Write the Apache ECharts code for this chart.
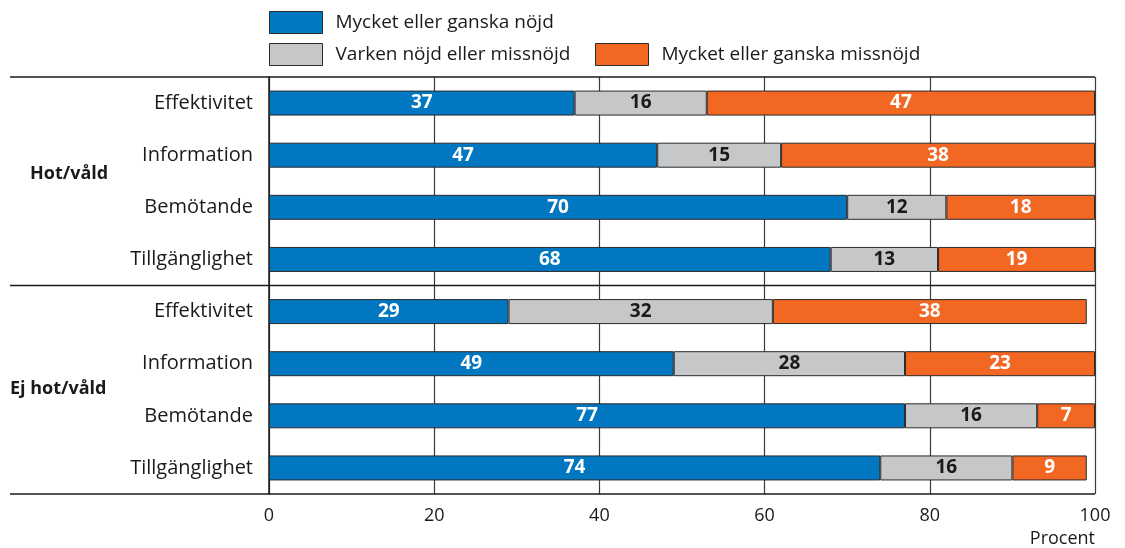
<!DOCTYPE html>
<html>
<head>
<meta charset="utf-8">
<script src="https://cdn.jsdelivr.net/npm/echarts@6/dist/echarts.min.js"></script>
<style>
  html, body { margin: 0; padding: 0; background: #fff; }
  #chart { width: 1125px; height: 548px; }
</style>
</head>
<body>
<div id="chart"></div>
<script>
// Row labels, top to bottom (two groups of four)
const categories = [
  'Effektivitet', 'Information', 'Bemötande', 'Tillgänglighet',
  'Effektivitet', 'Information', 'Bemötande', 'Tillgänglighet'
];
const groupNames = ['Hot/våld', 'Ej hot/våld'];
const seriesNames = ['Mycket eller ganska nöjd', 'Varken nöjd eller missnöjd', 'Mycket eller ganska missnöjd'];

// Percent per row
const nojd     = [37, 47, 70, 68, 29, 49, 77, 74];
const varken   = [16, 15, 12, 13, 32, 28, 16, 16];
const missnojd = [47, 38, 18, 19, 38, 23, 7, 9];

const xTicks = [0, 20, 40, 60, 80, 100];

const FONT = '"Open Sans", "Noto Sans", sans-serif';
const colors = ['#0077c0', '#c6c7c9', '#f26722'];
const labelColors = ['#ffffff', '#1a1a1a', '#ffffff'];

const gridLeft = 269, gridRight = 1095, gridTop = 77, gridBottom = 494;

function makeSeries(i, values) {
  return {
    name: seriesNames[i],
    type: 'bar',
    stack: 'total',
    barWidth: 25,
    data: values,
    itemStyle: { color: colors[i], borderColor: '#2b2b2b', borderWidth: 1 },
    label: {
      show: true,
      position: 'inside',
      color: labelColors[i],
      fontFamily: FONT,
      fontWeight: 'bold',
      fontSize: 19
    },
    emphasis: { disabled: true }
  };
}

function legendAt(i, left, top) {
  return {
    data: [seriesNames[i]],
    left: left,
    top: top,
    itemWidth: 53,
    itemHeight: 22,
    itemGap: 0,
    selectedMode: false,
    icon: 'rect',
    textStyle: { fontFamily: FONT, fontSize: 19, color: '#1a1a1a', padding: [0, 0, 0, 8] },
    itemStyle: { borderColor: '#2b2b2b', borderWidth: 1 }
  };
}

const chart = echarts.init(document.getElementById('chart'), null, { renderer: 'canvas' });

const option = {
  animation: false,
  backgroundColor: '#ffffff',
  legend: [
    legendAt(0, 264, 6),
    legendAt(1, 264, 38),
    legendAt(2, 590, 38)
  ],
  grid: {
    left: gridLeft,
    right: 1125 - gridRight,
    top: gridTop,
    bottom: 548 - gridBottom,
    containLabel: false
  },
  xAxis: {
    type: 'value',
    min: 0,
    max: 100,
    interval: 20,
    axisLine: { show: false },
    axisTick: { show: false },
    axisLabel: {
      fontFamily: FONT, fontSize: 18, color: '#1a1a1a', margin: 13,
      formatter: v => (xTicks.indexOf(v) >= 0 ? String(v) : '')
    },
    splitLine: { show: true, lineStyle: { color: '#3a3a3a', width: 1.2 } },
    name: 'Procent',
    nameLocation: 'end',
    nameGap: 0,
    nameTextStyle: {
      fontFamily: FONT, fontSize: 18, color: '#1a1a1a',
      align: 'right', verticalAlign: 'top', padding: [36, 0, 0, 0]
    }
  },
  yAxis: {
    type: 'category',
    data: categories,
    inverse: true,
    axisLine: { show: true, lineStyle: { color: '#1a1a1a', width: 1.5 } },
    axisTick: { show: false },
    axisLabel: { fontFamily: FONT, fontSize: 20, color: '#1a1a1a', margin: 16 }
  },
  series: [
    makeSeries(0, nojd),
    makeSeries(1, varken),
    makeSeries(2, missnojd)
  ],
  graphic: [
    { type: 'line', shape: { x1: 10, y1: gridTop, x2: gridRight, y2: gridTop }, style: { stroke: '#1a1a1a', lineWidth: 1.5 }, z: 10 },
    { type: 'line', shape: { x1: 10, y1: (gridTop + gridBottom) / 2, x2: gridRight, y2: (gridTop + gridBottom) / 2 }, style: { stroke: '#1a1a1a', lineWidth: 1.5 }, z: 10 },
    { type: 'line', shape: { x1: 10, y1: gridBottom, x2: gridRight, y2: gridBottom }, style: { stroke: '#1a1a1a', lineWidth: 1.5 }, z: 10 },
    { type: 'text', left: 30, top: 165, style: { text: groupNames[0], font: 'bold 18px ' + FONT, fill: '#1a1a1a' } },
    { type: 'text', left: 10, top: 380, style: { text: groupNames[1], font: 'bold 18px ' + FONT, fill: '#1a1a1a' } }
  ]
};

chart.setOption(option);
</script>
</body>
</html>
